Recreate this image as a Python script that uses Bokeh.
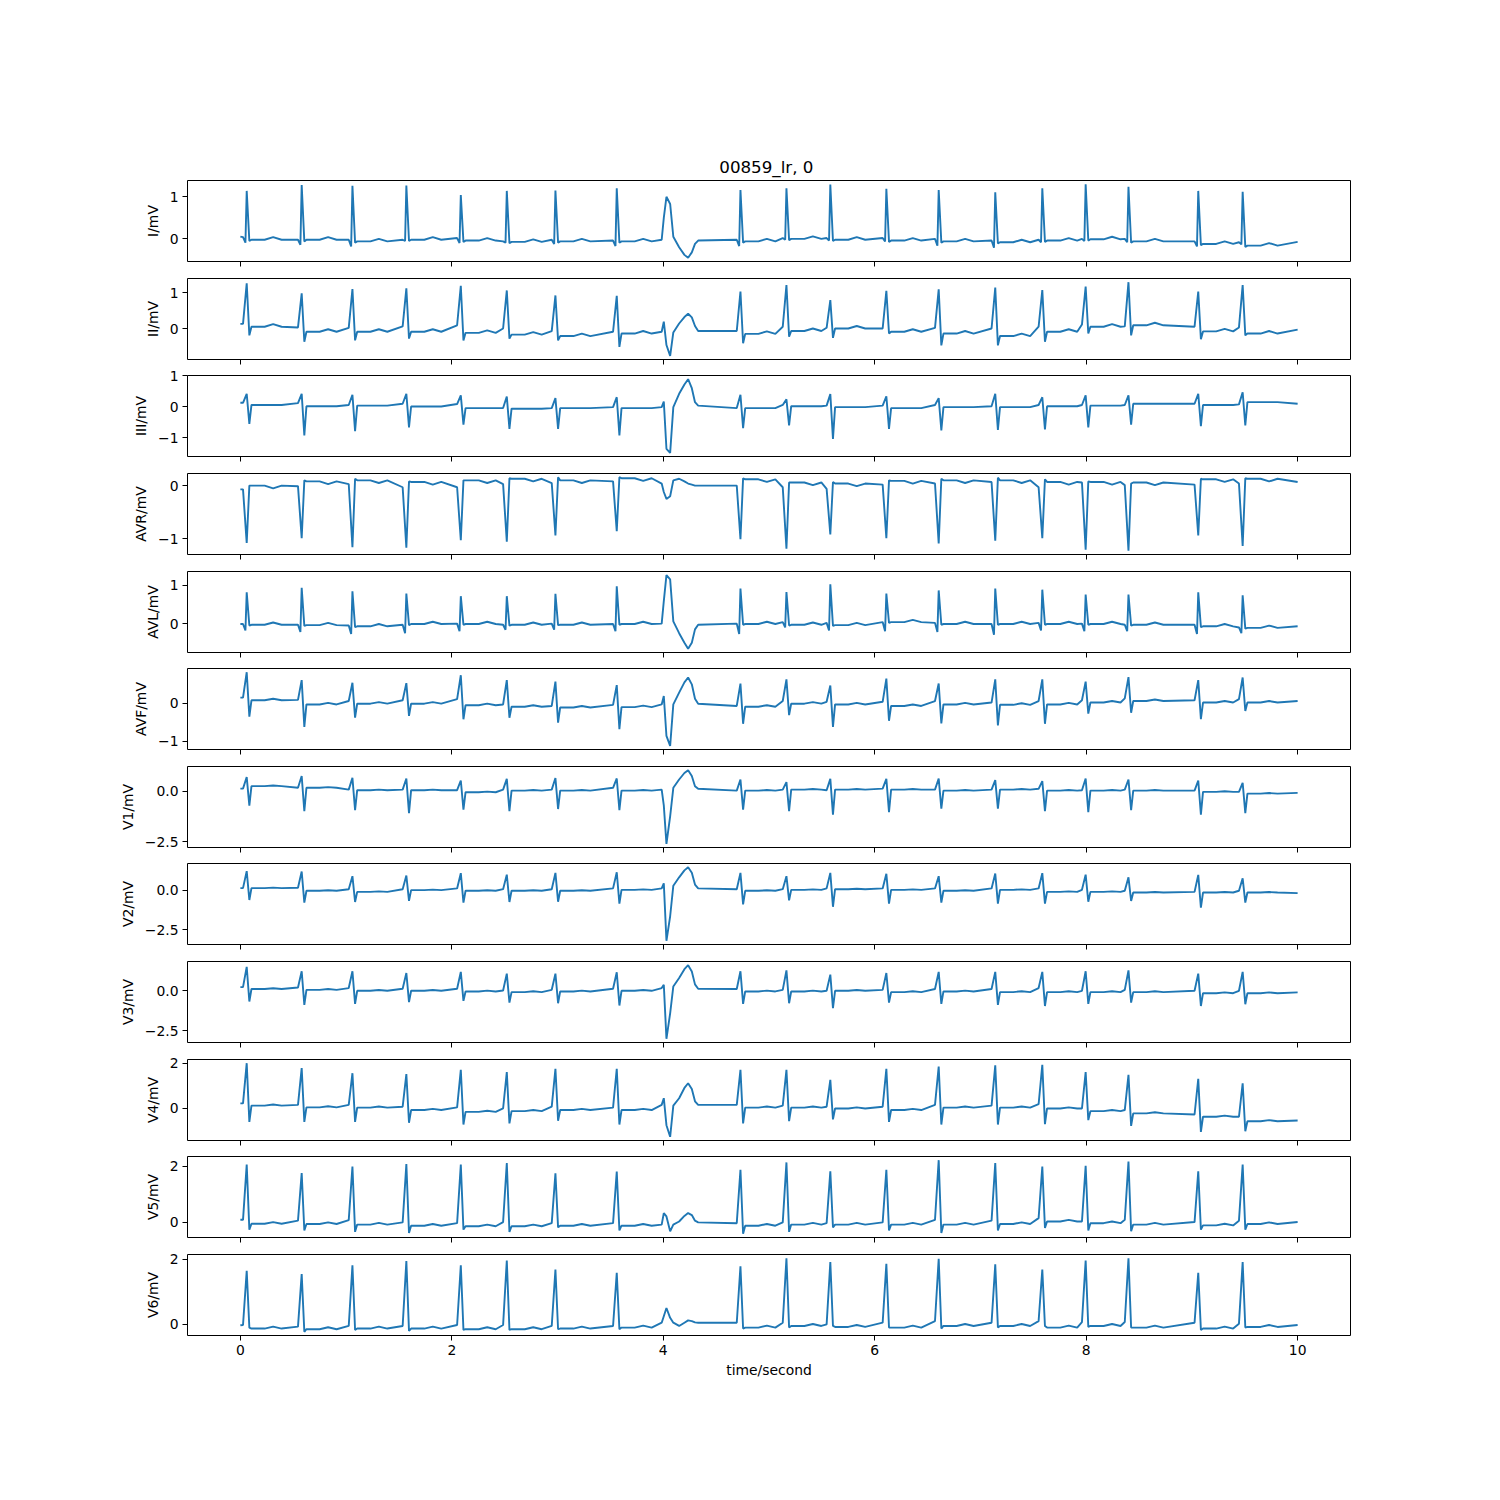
from bokeh.plotting import figure
from bokeh.layouts import column
from bokeh.models import Range1d, FixedTicker
from bokeh.embed import file_html
from bokeh.resources import INLINE

TITLE = "00859_lr,  0"
X_LABEL = "time/second"
lead_names = ["I", "II", "III", "AVR", "AVL", "AVF", "V1", "V2", "V3", "V4", "V5", "V6"]
x_ticks = [0, 2, 4, 6, 8, 10]

# R-peak times of the normal beats (s) and sample times of the wide ectopic beat
beat_t = [0.06, 0.58, 1.06, 1.57, 2.085, 2.52, 2.98, 3.56, 4.73, 5.165, 5.58,
          6.11, 6.605, 7.14, 7.585, 7.995, 8.40, 9.06, 9.48]
ecto_t = [3.985, 4.005, 4.03, 4.065, 4.095, 4.15, 4.20, 4.235, 4.27, 4.30, 4.33]

# ---- Lead I
I_pre = [0.04, -0.02, -0.02, -0.02, 0.02, -0.06, -0.02, -0.04, -0.02, 0.02, 0.02, 0.02, 0.0, -0.04, -0.02, 0.0, 0.0, -0.06, -0.08]
I_q = [-0.09, -0.14, -0.18, -0.05, -0.10, -0.09, -0.12, -0.17, -0.17, -0.02, -0.04, -0.06, -0.16, -0.21, -0.08, -0.05, -0.08, -0.18, -0.13]
I_r = [1.14, 1.28, 1.26, 1.27, 1.04, 1.14, 1.15, 1.20, 1.16, 1.20, 1.29, 1.19, 1.16, 1.11, 1.20, 1.30, 1.24, 1.14, 1.12]
I_s = [-0.05, -0.06, -0.09, -0.05, -0.07, -0.10, -0.09, -0.09, -0.09, -0.03, -0.05, -0.07, -0.09, -0.11, -0.07, -0.04, -0.09, -0.15, -0.19]
I_post = [-0.02, -0.02, -0.06, -0.02, -0.04, -0.07, -0.06, -0.06, -0.06, 0.0, -0.02, -0.04, -0.06, -0.08, -0.04, -0.01, -0.06, -0.12, -0.16]
I_ecto = [-0.02, 0.5, 1.0, 0.83, 0.05, -0.2, -0.38, -0.45, -0.32, -0.12, -0.04]
I_start, I_end, I_T = 0.055, -0.07, 0.06

# ---- Lead II
II_pre = [0.14, 0.04, 0.03, 0.07, 0.10, 0.01, -0.06, -0.08, -0.06, 0.06, 0.03, 0.01, 0.03, 0.01, 0.06, 0.12, 0.07, 0.06, 0.04]
II_r = [1.27, 0.99, 1.11, 1.13, 1.20, 1.07, 0.93, 0.92, 1.04, 1.22, 0.80, 1.06, 1.10, 1.15, 1.08, 1.18, 1.30, 1.04, 1.22]
II_s = [-0.18, -0.36, -0.32, -0.27, -0.32, -0.27, -0.32, -0.50, -0.40, -0.22, -0.25, -0.13, -0.46, -0.46, -0.36, -0.13, -0.18, -0.29, -0.18]
II_post = [0.06, -0.08, -0.08, -0.08, -0.11, -0.16, -0.20, -0.13, -0.14, -0.06, 0.01, -0.08, -0.13, -0.20, -0.08, 0.06, 0.10, -0.07, -0.13]
II_ecto = [-0.08, 0.2, -0.45, -0.75, -0.1, 0.15, 0.33, 0.42, 0.32, 0.08, -0.06]
II_start, II_end, II_T = 0.14, -0.02, 0.07

# ---- Lead III
III_pre = [0.13, 0.12, 0.06, 0.10, 0.09, -0.04, -0.04, -0.01, -0.04, 0.06, 0.04, 0.04, 0.06, 0.02, 0.06, 0.06, 0.06, 0.10, 0.08]
III_r = [0.42, 0.42, 0.39, 0.42, 0.37, 0.33, 0.28, 0.31, 0.39, 0.24, 0.41, 0.34, 0.28, 0.42, 0.31, 0.37, 0.37, 0.42, 0.47]
III_s = [-0.55, -0.92, -0.78, -0.66, -0.57, -0.71, -0.71, -0.92, -0.69, -0.60, -1.03, -0.71, -0.76, -0.74, -0.73, -0.66, -0.57, -0.62, -0.60]
III_post = [0.06, 0.02, 0.04, 0.01, -0.04, -0.06, -0.04, -0.04, -0.04, 0.02, -0.01, -0.04, -0.01, -0.01, 0.02, 0.04, 0.10, 0.06, 0.15]
III_ecto = [-0.01, 0.17, -1.35, -1.48, -0.01, 0.42, 0.72, 0.89, 0.6, 0.15, 0.04]
III_start, III_end, III_T = 0.13, 0.10, 0.0

# ---- Lead AVR
AVR_pre = [-0.07, -0.01, 0.03, -0.03, -0.03, 0.03, 0.05, 0.08, 0.0, -0.03, -0.06, 0.02, 0.04, 0.07, -0.03, 0.06, 0.01, 0.02, 0.04]
AVR_r = [-1.08, -0.99, -1.16, -1.17, -1.03, -1.06, -0.94, -0.86, -1.01, -1.19, -0.92, -0.99, -1.09, -1.04, -0.99, -1.21, -1.23, -0.94, -1.14]
AVR_s = [0.0, 0.10, 0.13, 0.08, 0.10, 0.14, 0.16, 0.16, 0.14, 0.06, 0.07, 0.10, 0.13, 0.15, 0.12, 0.08, 0.04, 0.13, 0.14]
AVR_post = [0.0, 0.08, 0.10, 0.07, 0.10, 0.13, 0.10, 0.14, 0.12, 0.06, 0.04, 0.09, 0.10, 0.10, 0.07, 0.07, 0.06, 0.12, 0.13]
AVR_ecto = [0.04, -0.12, -0.25, -0.2, 0.1, 0.13, 0.08, 0.04, 0.02, 0.0, 0.0]
AVR_start, AVR_end, AVR_T = -0.07, 0.07, -0.05

# ---- Lead AVL
AVL_pre = [-0.01, -0.03, -0.05, -0.03, 0.0, -0.03, 0.0, -0.01, 0.0, 0.04, 0.02, 0.04, 0.02, -0.01, 0.02, 0.0, -0.03, -0.03, -0.10]
AVL_q = [-0.18, -0.22, -0.27, -0.25, -0.20, -0.16, -0.16, -0.20, -0.27, -0.10, -0.18, -0.20, -0.22, -0.29, -0.18, -0.20, -0.20, -0.27, -0.25]
AVL_r = [0.82, 0.94, 0.85, 0.79, 0.72, 0.72, 0.78, 0.98, 0.92, 0.83, 1.03, 0.79, 0.87, 0.92, 0.89, 0.76, 0.76, 0.82, 0.74]
AVL_s = [-0.05, -0.06, -0.09, -0.04, -0.03, -0.05, -0.04, -0.03, -0.03, -0.05, -0.06, 0.02, -0.03, -0.03, -0.03, -0.03, -0.05, -0.09, -0.13]
AVL_post = [-0.03, -0.04, -0.07, -0.01, -0.01, -0.03, -0.03, -0.01, -0.01, -0.03, -0.04, 0.04, -0.01, -0.01, -0.01, -0.01, -0.03, -0.07, -0.11]
AVL_ecto = [0.0, 0.59, 1.27, 1.16, 0.06, -0.25, -0.5, -0.66, -0.5, -0.15, -0.03]
AVL_start, AVL_end, AVL_T = -0.01, -0.07, 0.06

# ---- Lead AVF
AVF_pre = [0.15, 0.09, 0.06, 0.08, 0.11, -0.03, -0.07, -0.04, -0.07, 0.06, 0.04, 0.04, 0.06, 0.02, 0.06, 0.08, 0.13, 0.08, 0.11]
AVF_r = [0.82, 0.61, 0.54, 0.53, 0.74, 0.61, 0.57, 0.48, 0.52, 0.63, 0.47, 0.65, 0.52, 0.63, 0.63, 0.57, 0.69, 0.61, 0.68]
AVF_s = [-0.35, -0.62, -0.38, -0.33, -0.42, -0.38, -0.51, -0.68, -0.54, -0.31, -0.62, -0.46, -0.53, -0.58, -0.54, -0.27, -0.25, -0.42, -0.20]
AVF_post = [0.08, -0.03, -0.01, -0.01, -0.05, -0.09, -0.11, -0.10, -0.09, -0.01, -0.03, -0.07, -0.03, -0.04, -0.03, 0.02, 0.06, 0.02, 0.02]
AVF_ecto = [-0.03, 0.19, -0.86, -1.12, -0.03, 0.28, 0.55, 0.68, 0.5, 0.12, -0.01]
AVF_start, AVF_end, AVF_T = 0.15, 0.06, 0.04

# ---- Lead V1
V1_pre = [0.13, 0.17, 0.08, 0.08, 0.05, 0.08, 0.08, 0.17, 0.03, 0.08, 0.05, 0.13, 0.08, 0.08, 0.12, 0.05, 0.08, 0.03, -0.03]
V1_r = [0.70, 0.75, 0.66, 0.63, 0.53, 0.61, 0.65, 0.63, 0.58, 0.45, 0.61, 0.61, 0.63, 0.55, 0.50, 0.63, 0.58, 0.53, 0.41]
V1_s = [-0.71, -0.99, -0.94, -1.08, -0.91, -0.99, -0.88, -0.94, -0.91, -0.99, -1.16, -1.04, -0.86, -0.86, -0.99, -1.04, -0.94, -1.16, -1.08]
V1_post = [0.25, 0.17, 0.05, 0.05, -0.05, 0.03, 0.03, 0.03, 0.03, 0.08, 0.08, 0.08, 0.03, 0.08, 0.03, 0.03, 0.03, -0.03, -0.12]
V1_ecto = [0.08, -0.7, -2.6, -1.24, 0.17, 0.58, 0.9, 1.04, 0.75, 0.25, 0.12]
V1_start, V1_end, V1_T = 0.13, -0.08, 0.03

# ---- Lead V2
V2_pre = [0.13, 0.15, 0.06, 0.06, 0.11, 0.06, 0.06, 0.11, 0.06, 0.06, 0.11, 0.11, 0.11, 0.11, 0.11, 0.02, -0.04, -0.11, -0.04]
V2_r = [1.20, 1.18, 0.88, 0.92, 1.07, 0.98, 1.09, 1.13, 1.09, 0.88, 1.09, 1.03, 0.88, 1.05, 1.07, 0.98, 0.81, 0.96, 0.75]
V2_s = [-0.62, -0.79, -0.75, -0.68, -0.79, -0.75, -0.73, -0.85, -0.90, -0.64, -1.05, -0.85, -0.79, -0.85, -0.85, -0.73, -0.68, -1.11, -0.79]
V2_post = [0.13, -0.04, -0.11, 0.0, -0.04, -0.04, -0.04, 0.02, -0.04, 0.02, 0.06, 0.02, -0.04, 0.02, -0.11, -0.11, -0.15, -0.15, -0.15]
V2_ecto = [0.11, 0.43, -3.2, -1.65, 0.28, 0.81, 1.25, 1.45, 1.1, 0.35, 0.11]
V2_start, V2_end, V2_T = 0.13, -0.19, 0.03

# ---- Lead V3
V3_pre = [0.23, 0.21, 0.17, 0.13, 0.13, 0.02, 0.06, 0.13, 0.11, 0.06, 0.0, 0.06, 0.11, 0.11, 0.17, 0.0, 0.06, 0.0, 0.0]
V3_r = [1.49, 1.22, 1.22, 1.11, 1.18, 1.07, 1.07, 1.16, 1.22, 1.28, 1.01, 1.11, 1.18, 1.18, 1.18, 1.22, 1.28, 1.07, 1.18]
V3_s = [-0.67, -0.88, -0.82, -0.71, -0.63, -0.74, -0.78, -0.92, -0.82, -0.78, -1.09, -0.74, -0.82, -0.88, -0.95, -0.82, -0.74, -0.95, -0.84]
V3_post = [0.11, 0.06, 0.0, 0.0, -0.04, -0.08, -0.04, 0.0, -0.04, -0.04, 0.0, -0.08, -0.04, -0.08, -0.08, -0.08, -0.08, -0.15, -0.15]
V3_ecto = [0.17, 0.38, -3.0, -1.41, 0.27, 0.80, 1.35, 1.6, 1.2, 0.4, 0.13]
V3_start, V3_end, V3_T = 0.23, -0.10, 0.05

# ---- Lead V4
V4_pre = [0.21, 0.14, 0.14, 0.06, 0.03, -0.02, 0.06, 0.02, 0.14, 0.11, 0.06, 0.06, 0.14, 0.11, 0.17, -0.02, -0.09, -0.29, -0.39]
V4_r = [2.01, 1.79, 1.56, 1.52, 1.71, 1.61, 1.76, 1.76, 1.71, 1.71, 1.26, 1.76, 1.86, 1.91, 1.94, 1.61, 1.49, 1.31, 1.11]
V4_s = [-0.62, -0.62, -0.62, -0.66, -0.74, -0.69, -0.57, -0.74, -0.69, -0.59, -0.51, -0.62, -0.74, -0.74, -0.72, -0.54, -0.80, -1.07, -1.04]
V4_post = [0.11, 0.03, 0.02, -0.09, -0.17, -0.14, -0.09, -0.09, 0.02, 0.02, -0.02, -0.09, 0.02, 0.02, -0.02, -0.14, -0.24, -0.39, -0.59]
V4_ecto = [0.14, 0.44, -0.77, -1.29, 0.11, 0.44, 0.9, 1.11, 0.85, 0.3, 0.14]
V4_start, V4_end, V4_T = 0.21, -0.56, 0.05

# ---- Lead V5
V5_pre = [0.08, 0.05, 0.07, -0.01, -0.04, 0.0, -0.04, -0.04, -0.04, -0.01, -0.04, -0.01, 0.08, 0.05, 0.14, 0.02, 0.08, 0.0, 0.05]
V5_r = [2.05, 1.75, 1.98, 2.07, 2.05, 2.11, 1.74, 1.80, 1.87, 2.13, 1.81, 1.87, 2.21, 2.11, 1.98, 2.01, 2.16, 1.81, 2.05]
V5_s = [-0.27, -0.30, -0.35, -0.39, -0.27, -0.35, -0.19, -0.30, -0.42, -0.35, -0.19, -0.30, -0.39, -0.30, -0.21, -0.30, -0.33, -0.27, -0.27]
V5_post = [-0.06, -0.07, -0.09, -0.13, -0.15, -0.15, -0.13, -0.13, -0.13, -0.09, -0.09, -0.09, -0.09, -0.07, 0.02, -0.04, -0.09, -0.12, -0.07]
V5_ecto = [-0.09, 0.32, 0.2, -0.33, -0.09, 0.02, 0.22, 0.32, 0.25, 0.05, -0.01]
V5_start, V5_end, V5_T = 0.08, 0.0, 0.06

# ---- Lead V6
V6_pre = [-0.02, -0.07, -0.05, -0.05, -0.02, -0.02, -0.05, -0.05, 0.05, 0.05, 0.0, 0.05, 0.10, 0.05, 0.10, 0.07, 0.07, 0.05, 0.02]
V6_r = [1.64, 1.54, 1.81, 1.94, 1.81, 1.96, 1.68, 1.58, 1.78, 2.03, 1.91, 1.86, 2.01, 1.84, 1.68, 1.96, 2.03, 1.58, 1.91]
V6_s = [-0.10, -0.23, -0.17, -0.20, -0.17, -0.17, -0.15, -0.15, -0.13, -0.10, -0.05, -0.10, -0.13, -0.10, -0.05, -0.08, -0.10, -0.17, -0.10]
V6_post = [-0.13, -0.15, -0.13, -0.13, -0.15, -0.15, -0.13, -0.10, -0.10, -0.05, -0.08, -0.10, -0.05, -0.05, -0.10, -0.05, -0.10, -0.13, -0.08]
V6_ecto = [0.05, 0.25, 0.5, 0.2, 0.05, -0.05, 0.05, 0.12, 0.10, 0.06, 0.05]
V6_start, V6_end, V6_T = -0.03, -0.02, 0.06

y_ticks = {"I": [0, 1], "II": [0, 1], "III": [-1, 0, 1], "AVR": [-1, 0], "AVL": [0, 1],
           "AVF": [-1, 0], "V1": [-2.5, 0], "V2": [-2.5, 0], "V3": [-2.5, 0],
           "V4": [0, 2], "V5": [0, 2], "V6": [0, 2]}

g = globals()
LEADS = {}
for nm in lead_names:
    LEADS[nm] = dict(pre=g[nm + "_pre"], q=g.get(nm + "_q"), r=g[nm + "_r"], s=g[nm + "_s"],
                     post=g[nm + "_post"], ecto=g[nm + "_ecto"], start=g[nm + "_start"],
                     end=g[nm + "_end"], T=g[nm + "_T"])


def trace(d):
    pts = [(0.0, d["start"])]
    for k, t in enumerate(beat_t):
        pts.append((t - 0.035, d["pre"][k]))
        if d["q"] is not None:
            pts.append((t - 0.012, d["q"][k]))
        pts.append((t, d["r"][k]))
        pts.append((t + 0.025, d["s"][k]))
        pts.append((t + 0.045, d["post"][k]))
        pts.append((t + 0.17, d["post"][k]))
        pts.append((t + 0.25, d["post"][k] + d["T"]))
        pts.append((t + 0.33, d["post"][k]))
    for tt, v in zip(ecto_t, d["ecto"]):
        pts.append((tt, v))
    pts.append((10.0, d["end"]))
    pts.sort()
    return [p[0] for p in pts], [p[1] for p in pts]


FONT = "DejaVu Sans"
FS = "13.9px"
FRAME_W, FRAME_H = 1163, 81
tops = [round(180 + i * 97.64) for i in range(12)]
starts = [0] + [tops[i] - 8 for i in range(1, 12)]

figs = []
for i, nm in enumerate(lead_names):
    xs, ys = trace(LEADS[nm])
    lo, hi = min(ys), max(ys)
    pad = 0.05 * (hi - lo)
    last = (i == 11)
    top_b = tops[i] - starts[i]
    bot_b = 140 if last else starts[i + 1] - (tops[i] + FRAME_H)
    p = figure(frame_width=FRAME_W, frame_height=FRAME_H,
               x_range=Range1d(-0.5, 10.5), y_range=Range1d(lo - pad, hi + pad),
               output_backend="svg", toolbar_location=None,
               min_border_left=187, min_border_right=150,
               min_border_top=top_b, min_border_bottom=bot_b,
               background_fill_color="white", border_fill_color="white")
    if i == 0:
        p.title.text = TITLE
        p.title.align = "center"
        p.title.text_font = FONT
        p.title.text_font_size = "16.7px"
        p.title.text_font_style = "normal"
        p.title.text_color = "black"
        p.title.standoff = 7
    p.line(xs, ys, line_color="#1f77b4", line_width=1.9)
    p.grid.visible = False
    p.outline_line_color = "black"
    p.outline_line_alpha = 1.0
    p.outline_line_width = 1

    for ax in (p.xaxis[0], p.yaxis[0]):
        ax.axis_line_color = None
        ax.major_tick_in = 0
        ax.major_tick_out = 5
        ax.major_tick_line_color = "black"
        ax.major_tick_line_width = 1
        ax.minor_tick_line_color = None
        ax.major_label_text_font = FONT
        ax.major_label_text_font_size = FS
        ax.major_label_text_color = "black"
        ax.axis_label_text_font = FONT
        ax.axis_label_text_font_size = FS
        ax.axis_label_text_font_style = "normal"
        ax.axis_label_text_color = "black"

    xa = p.xaxis[0]
    xa.ticker = FixedTicker(ticks=x_ticks)
    if last:
        xa.major_label_standoff = 4
        xa.axis_label = X_LABEL
        xa.axis_label_standoff = 4
    else:
        # shared x axis: tick marks only, no tick labels drawn
        xa.major_label_text_color = None
        xa.major_label_standoff = 0

    ya = p.yaxis[0]
    yt = y_ticks[nm]
    ya.ticker = FixedTicker(ticks=yt)
    if nm in ("V1", "V2", "V3"):
        ya.major_label_overrides = {v: ("%.1f" % v).replace("-", "\u2212") for v in yt}
    else:
        ya.major_label_overrides = {v: str(v).replace("-", "\u2212") for v in yt}
    ya.major_label_standoff = 4
    ya.axis_label = nm + "/mV"
    ya.axis_label_standoff = 6
    figs.append(p)

layout = column(*figs, spacing=0)
open("out.html", "w").write(file_html(layout, INLINE))
